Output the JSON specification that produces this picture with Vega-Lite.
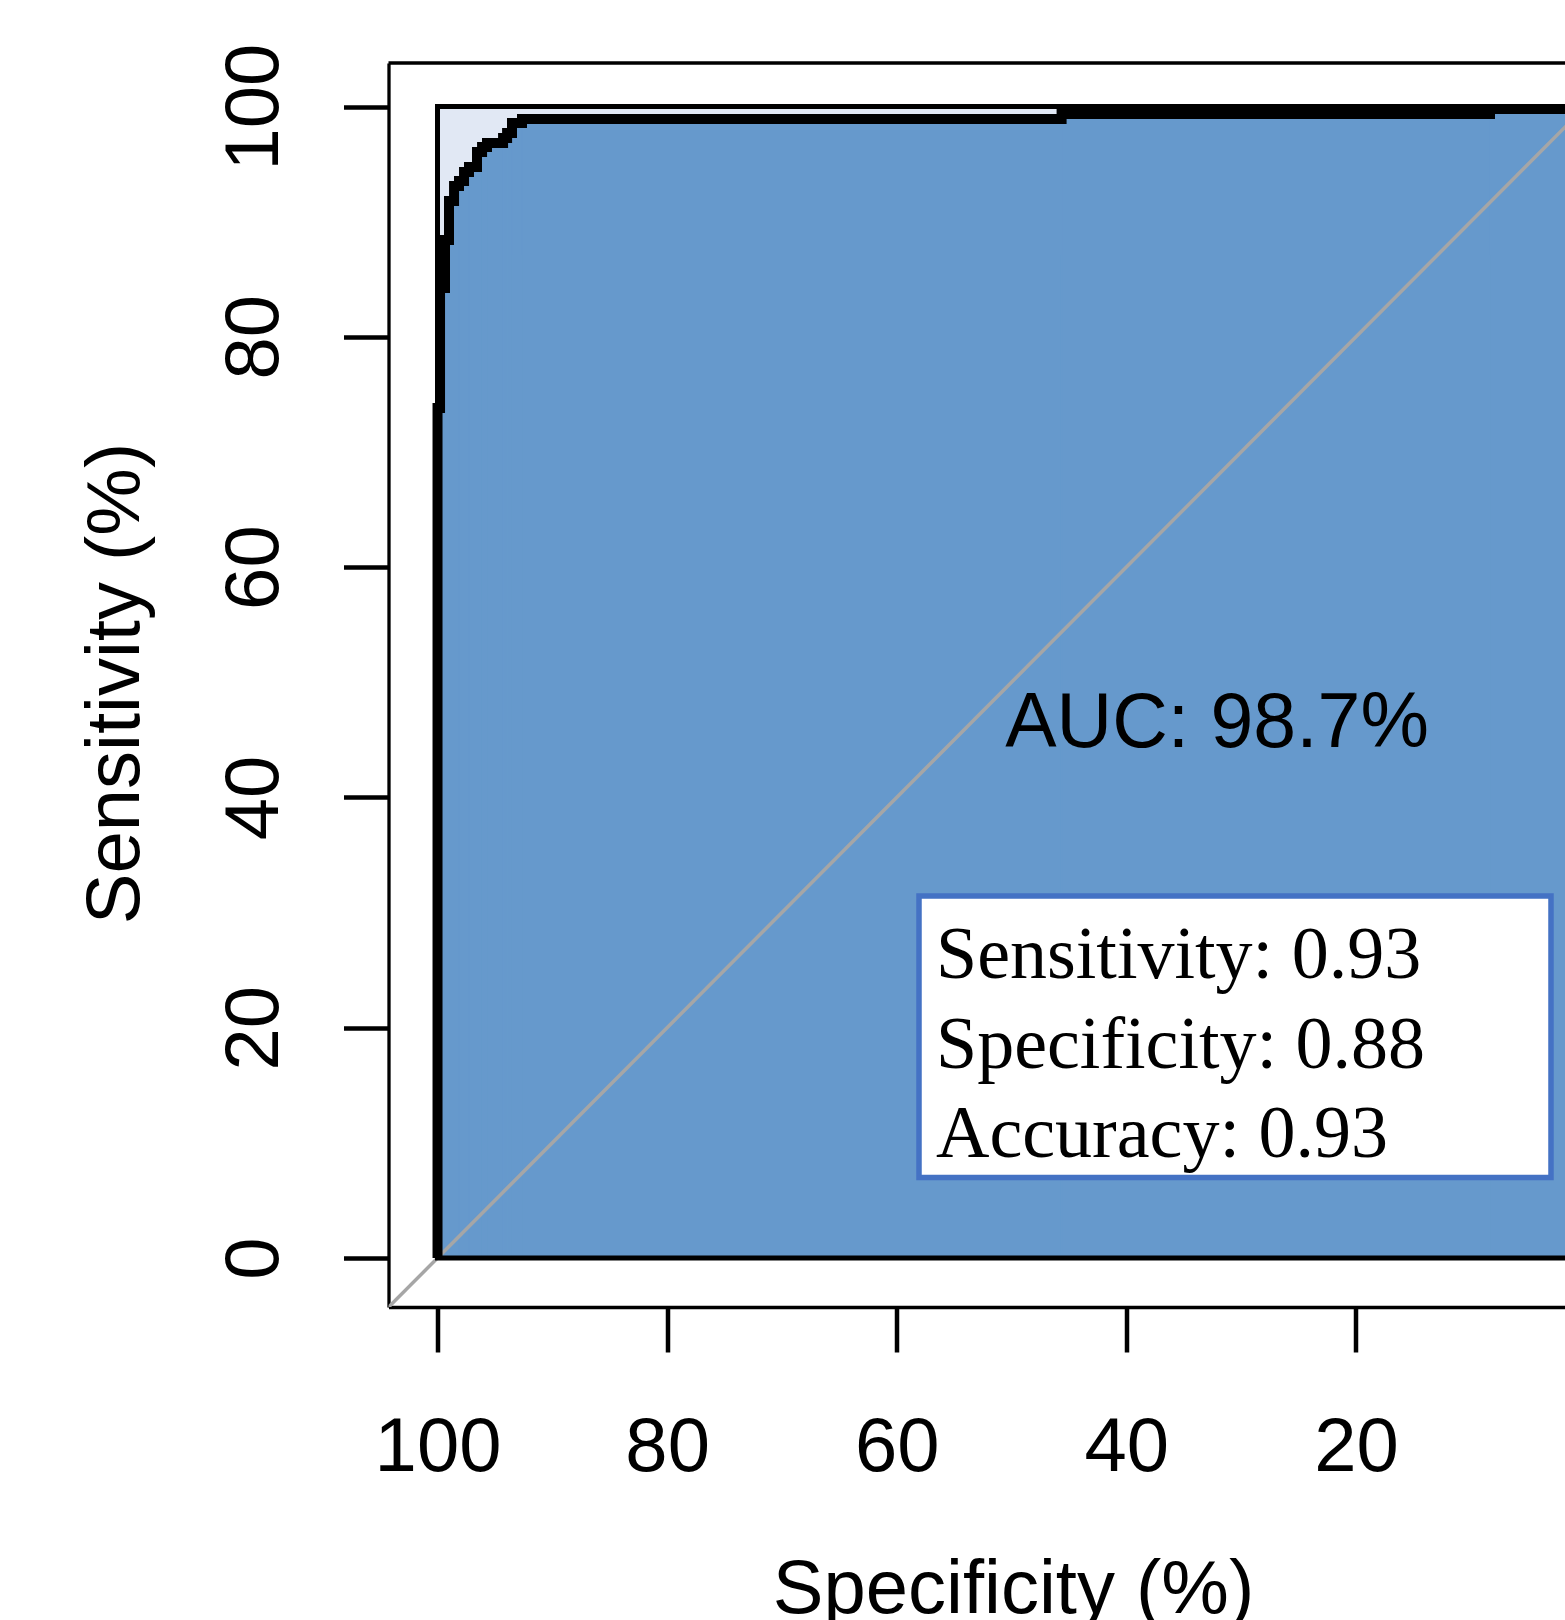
{
  "$schema": "https://vega.github.io/schema/vega-lite/v6.json",
  "width": 1176.5,
  "height": 1244,
  "autosize": {"type": "none"},
  "padding": {"left": 388.5, "top": 63, "right": 0, "bottom": 313},
  "background": "white",
  "config": {"view": {"stroke": null}, "axis": {"grid": false}},
  "datasets": {
    "roc": [
      {"i": 0, "sp": 100, "se": 0},
      {"i": 1, "sp": 99.78, "se": 73.82},
      {"i": 2, "sp": 99.35, "se": 84.24},
      {"i": 3, "sp": 99.0, "se": 88.41},
      {"i": 4, "sp": 98.56, "se": 91.79},
      {"i": 5, "sp": 98.13, "se": 93.1},
      {"i": 6, "sp": 97.69, "se": 93.53},
      {"i": 7, "sp": 97.26, "se": 94.31},
      {"i": 8, "sp": 96.56, "se": 94.75},
      {"i": 9, "sp": 96.12, "se": 96.05},
      {"i": 10, "sp": 95.69, "se": 96.48},
      {"i": 11, "sp": 94.29, "se": 96.83},
      {"i": 12, "sp": 93.94, "se": 97.26},
      {"i": 13, "sp": 93.51, "se": 97.7},
      {"i": 14, "sp": 92.64, "se": 98.57},
      {"i": 15, "sp": 45.64, "se": 98.91},
      {"i": 16, "sp": 8.32, "se": 99.35},
      {"i": 17, "sp": 0, "se": 99.78}
    ]
  },
  "layer": [
    {
      "data": {"values": [{}]},
      "mark": {"type": "rect", "fill": "#E1E8F4", "clip": true},
      "encoding": {
        "x": {"datum": 100, "type": "quantitative",
          "scale": {"domain": [1.79, 104.27], "reverse": true, "nice": false, "zero": false},
          "axis": {
            "values": [20, 40, 60, 80, 100],
            "tickSize": 45, "tickWidth": 4.5, "tickColor": "black",
            "domainColor": "black", "domainWidth": 3.3,
            "labelFont": "Liberation Sans", "labelFontSize": 76, "labelColor": "black",
            "labelBaseline": "alphabetic", "labelPadding": 118,
            "labelFlush": false, "labelOverlap": false,
            "title": "Specificity (%)", "titleFont": "Liberation Sans", "titleFontSize": 76,
            "titleFontWeight": "normal", "titleColor": "black",
            "titleX": 624.5, "titleY": 305, "titleAlign": "center", "titleBaseline": "alphabetic"
          }
        },
        "x2": {"datum": 0},
        "y": {"datum": 0, "type": "quantitative",
          "scale": {"domain": [-4.255, 103.78], "nice": false, "zero": false},
          "axis": {
            "values": [0, 20, 40, 60, 80, 100],
            "tickSize": 45, "tickWidth": 4.5, "tickColor": "black",
            "domainColor": "black", "domainWidth": 3.3,
            "labelFont": "Liberation Sans", "labelFontSize": 76, "labelColor": "black",
            "labelAngle": -90, "labelAlign": "center", "labelBaseline": "alphabetic", "labelPadding": 66,
            "labelFlush": false, "labelOverlap": false,
            "title": "Sensitivity (%)", "titleFont": "Liberation Sans", "titleFontSize": 76,
            "titleFontWeight": "normal", "titleColor": "black", "titleAngle": -90,
            "titleX": -250, "titleY": 620, "titleAlign": "center", "titleBaseline": "alphabetic"
          }
        },
        "y2": {"datum": 100}
      }
    },
    {
      "data": {"name": "roc"},
      "transform": [
        {"joinaggregate": [{"op": "min", "field": "se", "as": "base"}]},
        {"window": [{"op": "lag", "field": "sp", "as": "sp_prev"}], "sort": [{"field": "i", "order": "ascending"}]},
        {"filter": "datum.sp_prev != null"}
      ],
      "mark": {"type": "rect", "fill": "#6699CC", "stroke": "#6699CC", "strokeWidth": 1.2, "clip": true},
      "encoding": {
        "x": {"field": "sp_prev", "type": "quantitative", "scale": {"domain": [1.79, 104.27], "reverse": true, "nice": false, "zero": false}},
        "x2": {"field": "sp"},
        "y": {"field": "se", "type": "quantitative", "scale": {"domain": [-4.255, 103.78], "nice": false, "zero": false}},
        "y2": {"field": "base"}
      }
    },
    {
      "data": {"values": [{}]},
      "mark": {"type": "rule", "color": "#A6A6A6", "strokeWidth": 3.5, "clip": true},
      "encoding": {
        "x": {"datum": 104.5, "type": "quantitative", "scale": {"domain": [1.79, 104.27], "reverse": true, "nice": false, "zero": false}},
        "x2": {"datum": -4.5},
        "y": {"datum": -4.5, "type": "quantitative", "scale": {"domain": [-4.255, 103.78], "nice": false, "zero": false}},
        "y2": {"datum": 104.5}
      }
    },
    {
      "data": {"values": [{}]},
      "mark": {"type": "rect", "fillOpacity": 0, "stroke": "black", "strokeWidth": 5, "clip": true},
      "encoding": {
        "x": {"datum": 100, "type": "quantitative", "scale": {"domain": [1.79, 104.27], "reverse": true, "nice": false, "zero": false}},
        "x2": {"datum": 0},
        "y": {"datum": 0, "type": "quantitative", "scale": {"domain": [-4.255, 103.78], "nice": false, "zero": false}},
        "y2": {"datum": 100}
      }
    },
    {
      "data": {"values": [{}]},
      "mark": {"type": "rule", "color": "black", "strokeWidth": 3.3},
      "encoding": {
        "y": {"datum": 103.78, "type": "quantitative", "scale": {"domain": [-4.255, 103.78], "nice": false, "zero": false}}
      }
    },
    {
      "data": {"name": "roc"},
      "mark": {"type": "line", "color": "black", "strokeWidth": 10, "interpolate": "step-before", "strokeJoin": "miter", "strokeCap": "butt", "clip": true},
      "encoding": {
        "x": {"field": "sp", "type": "quantitative", "scale": {"domain": [1.79, 104.27], "reverse": true, "nice": false, "zero": false}},
        "y": {"field": "se", "type": "quantitative", "scale": {"domain": [-4.255, 103.78], "nice": false, "zero": false}},
        "order": {"field": "i", "type": "quantitative"}
      }
    },
    {
      "data": {"values": [{}]},
      "mark": {"type": "text", "text": "AUC: 98.7%", "font": "Liberation Sans", "fontSize": 77, "color": "black", "align": "center", "baseline": "alphabetic"},
      "encoding": {
        "x": {"datum": 32.1, "type": "quantitative", "scale": {"domain": [1.79, 104.27], "reverse": true, "nice": false, "zero": false}},
        "y": {"datum": 44.38, "type": "quantitative", "scale": {"domain": [-4.255, 103.78], "nice": false, "zero": false}}
      }
    },
    {
      "data": {"values": [{}]},
      "mark": {"type": "rect", "fill": "white", "stroke": "#4472C4", "strokeWidth": 5.5},
      "encoding": {
        "x": {"datum": 58.06, "type": "quantitative", "scale": {"domain": [1.79, 104.27], "reverse": true, "nice": false, "zero": false}},
        "x2": {"datum": 3.01},
        "y": {"datum": 31.44, "type": "quantitative", "scale": {"domain": [-4.255, 103.78], "nice": false, "zero": false}},
        "y2": {"datum": 6.99}
      }
    },
    {
      "data": {"values": [{}]},
      "mark": {"type": "text", "text": "Sensitivity: 0.93", "font": "Liberation Serif", "fontSize": 74, "color": "black", "align": "left", "baseline": "alphabetic"},
      "encoding": {
        "x": {"datum": 56.58, "type": "quantitative", "scale": {"domain": [1.79, 104.27], "reverse": true, "nice": false, "zero": false}},
        "y": {"datum": 24.32, "type": "quantitative", "scale": {"domain": [-4.255, 103.78], "nice": false, "zero": false}}
      }
    },
    {
      "data": {"values": [{}]},
      "mark": {"type": "text", "text": "Specificity: 0.88", "font": "Liberation Serif", "fontSize": 74, "color": "black", "align": "left", "baseline": "alphabetic"},
      "encoding": {
        "x": {"datum": 56.58, "type": "quantitative", "scale": {"domain": [1.79, 104.27], "reverse": true, "nice": false, "zero": false}},
        "y": {"datum": 16.53, "type": "quantitative", "scale": {"domain": [-4.255, 103.78], "nice": false, "zero": false}}
      }
    },
    {
      "data": {"values": [{}]},
      "mark": {"type": "text", "text": "Accuracy: 0.93", "font": "Liberation Serif", "fontSize": 74, "color": "black", "align": "left", "baseline": "alphabetic"},
      "encoding": {
        "x": {"datum": 56.58, "type": "quantitative", "scale": {"domain": [1.79, 104.27], "reverse": true, "nice": false, "zero": false}},
        "y": {"datum": 8.8, "type": "quantitative", "scale": {"domain": [-4.255, 103.78], "nice": false, "zero": false}}
      }
    }
  ]
}
